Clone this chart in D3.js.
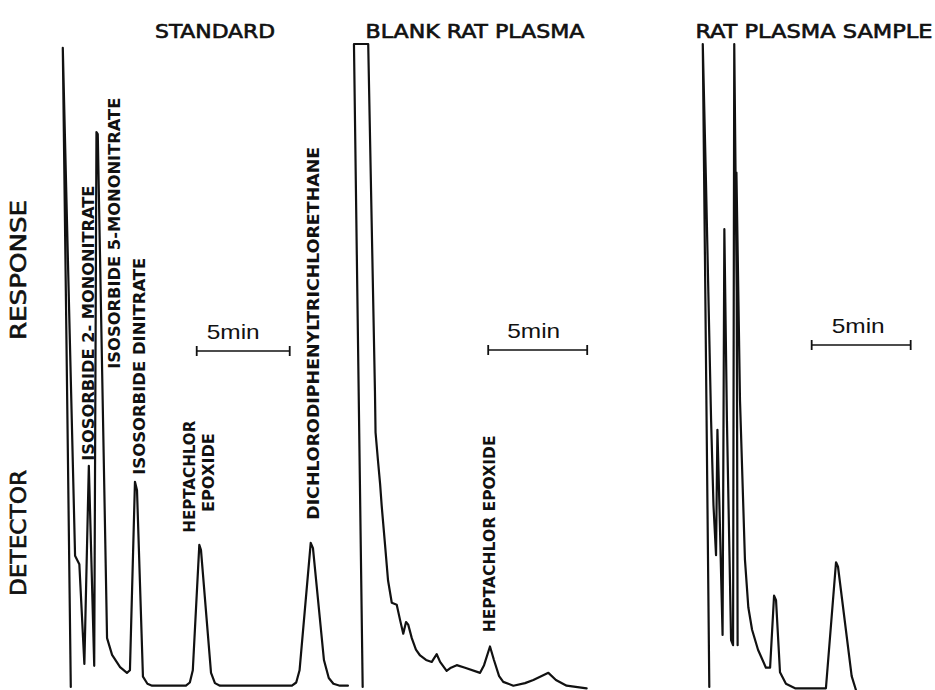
<!DOCTYPE html>
<html>
<head>
<meta charset="utf-8">
<script src="https://cdn.jsdelivr.net/npm/d3@7/dist/d3.min.js"></script>
<style>
  html, body { margin: 0; padding: 0; background: #fff; }
  svg { display: block; }
  text { fill: #111; }
</style>
</head>
<body>
<svg id="chart" width="935" height="690"></svg>
<script>
// ---------------- DATA ----------------
const panelTitles = ["STANDARD", "BLANK RAT PLASMA", "RAT PLASMA SAMPLE"];
const yAxisLabel = ["DETECTOR", "RESPONSE"];
const scaleBarLabel = "5min";
const scaleBarMinutes = 5;
const scaleBarStart = [7.35, 6.98, 5.64];   // minutes, per panel

// Standard chromatogram (time in min, response in % of full scale)
const standardTime = [0.58, 0.15, 0.81, 1.04, 1.31, 1.55, 1.84, 1.96, 2.03, 2.53, 2.80, 3.23, 3.60, 3.76,
  4.03, 4.14, 4.46, 4.70, 4.95, 6.77, 6.98, 7.14, 7.49, 7.58, 8.12, 8.33, 8.60, 12.47, 12.70, 12.88, 13.48, 13.60,
  14.19, 14.45, 14.70, 15.05, 15.48];
const standardResp = [0, 99.4, 20.4, 19.1, 3.6, 34.4, 3.3, 86.3, 86.0, 7.6, 5.0, 3.1, 2.2, 2.6,
  31.9, 30.6, 1.6, 0.5, 0.2, 0.2, 0.7, 2.6, 22.1, 21.3, 2.2, 0.6, 0.2, 0.2, 0.7, 2.6, 22.4, 21.6,
  4.2, 1.4, 0.5, 0.2, 0.2];

// Blank rat plasma
const blankTime = [0.64, 0.20, 0.92, 1.26, 1.29, 1.41, 1.52, 1.60, 1.77, 1.92, 2.11, 2.36, 2.53, 2.69, 2.83, 2.94,
  3.12, 3.33, 3.54, 3.84, 4.13, 4.38, 4.55, 4.88, 5.10, 5.39, 5.81, 6.57, 6.77, 7.07, 7.27, 7.53, 7.74, 8.25,
  8.84, 9.26, 10.02, 10.40, 10.94, 11.95];
const blankResp = [0, 100, 100, 46.0, 39.6, 35.3, 31.6, 28.2, 22.1, 16.6, 13.1, 12.8, 10.4, 8.3, 10.1, 9.7,
  7.6, 5.8, 4.9, 4.2, 3.9, 5.1, 3.9, 2.5, 3.0, 3.4, 3.0, 2.2, 3.4, 6.3, 4.2, 1.7, 0.8, 0.2,
  0.6, 1.1, 2.2, 1.1, 0.2, -0.2];

// Rat plasma sample
const sampleTime = [0.47, 0.14, 0.30, 0.56, 0.68, 0.81, 0.88, 0.98, 1.14, 1.23, 1.36, 1.57, 1.67, 1.73, 1.86, 1.90,
  1.84, 2.02, 2.27, 2.44, 2.63, 2.93, 3.33, 3.54, 3.74, 3.84, 4.04, 4.34, 4.80, 6.36, 6.87, 6.97, 7.66, 7.88];
const sampleResp = [0, 100, 78.8, 41.5, 28.3, 20.5, 40.0, 28.3, 8.1, 71.2, 41.5, 7.3, 6.5, 100, 60.0, 6.5,
  80.0, 44.6, 19.8, 12.4, 8.9, 5.8, 3.0, 3.0, 14.2, 13.5, 2.3, 0.5, -0.2, -0.2, 19.4, 18.7, 1.7, -0.5];

// Peak labels
const peakLabelText = ["ISOSORBIDE 2- MONONITRATE", "ISOSORBIDE 5-MONONITRATE", "ISOSORBIDE DINITRATE",
  "HEPTACHLOR", "EPOXIDE", "DICHLORODIPHENYLTRICHLORETHANE", "HEPTACHLOR EPOXIDE"];
const peakLabelPanel = [0, 0, 0, 0, 0, 0, 1];
const peakLabelTime = [1.51, 2.90, 4.25, 6.94, 7.96, 13.61, 7.0];
const peakLabelResp = [35.2, 49.5, 33.0, 24.0, 27.2, 26.0, 8.5];

// ---------------- LAYOUT ----------------
const svg = d3.select("#chart");
const y = d3.scaleLinear().domain([0, 100]).range([687, 44]);
const xScales = [
  d3.scaleLinear().domain([0, 16]).range([60, 60 + 16 * 18.6]),
  d3.scaleLinear().domain([0, 12]).range([350, 350 + 12 * 19.8]),
  d3.scaleLinear().domain([0, 8]).range([700, 700 + 8 * 19.8])
];
const series = [
  { t: standardTime, r: standardResp },
  { t: blankTime, r: blankResp },
  { t: sampleTime, r: sampleResp }
];

const FONT = "'DejaVu Sans Condensed', 'DejaVu Sans', 'Liberation Sans Narrow', sans-serif";

// traces
const line = d3.line().x(d => d[0]).y(d => d[1]).curve(d3.curveLinear);
series.forEach((s, i) => {
  const pts = s.t.map((t, k) => [xScales[i](t), y(s.r[k])]);
  svg.append("path")
    .attr("d", line(pts))
    .attr("fill", "none")
    .attr("stroke", "#111")
    .attr("stroke-width", 2.2)
    .attr("stroke-linejoin", "round")
    .attr("stroke-linecap", "round");
});

// titles
const titleLayout = [
  { cx: 215, len: 120 }, { cx: 475, len: 219 }, { cx: 814, len: 237 }
];
panelTitles.forEach((t, i) => {
  svg.append("text")
    .attr("x", titleLayout[i].cx - titleLayout[i].len / 2)
    .attr("y", 38)
    .attr("textLength", titleLayout[i].len)
    .attr("lengthAdjust", "spacingAndGlyphs")
    .style("font-family", FONT)
    .style("font-size", "20px")
    .style("stroke", "#111")
    .style("stroke-width", "0.6px")
    .text(t);
});

// y axis label (rotated)
const yLabelLayout = [{ bottom: 596, len: 126 }, { bottom: 340, len: 140 }];
yAxisLabel.forEach((t, i) => {
  svg.append("text")
    .attr("transform", `translate(26,${yLabelLayout[i].bottom}) rotate(-90)`)
    .attr("textLength", yLabelLayout[i].len)
    .attr("lengthAdjust", "spacingAndGlyphs")
    .style("font-family", FONT)
    .style("font-size", "21px")
    .style("stroke", "#111")
    .style("stroke-width", "0.6px")
    .text(t);
});

// scale bars
const barY = [351, 350, 345];
const barTextOffset = [10, 19, 20];
xScales.forEach((xs, i) => {
  const x0 = xs(scaleBarStart[i]);
  const x1 = xs(scaleBarStart[i] + scaleBarMinutes);
  const g = svg.append("g");
  g.append("line").attr("x1", x0).attr("x2", x1).attr("y1", barY[i]).attr("y2", barY[i])
    .attr("stroke", "#111").attr("stroke-width", 1.6);
  [x0, x1].forEach(xx => g.append("line").attr("x1", xx).attr("x2", xx)
    .attr("y1", barY[i] - 5).attr("y2", barY[i] + 5).attr("stroke", "#111").attr("stroke-width", 1.8));
  g.append("text")
    .attr("x", x0 + barTextOffset[i])
    .attr("y", barY[i] - 12)
    .attr("textLength", 53)
    .attr("lengthAdjust", "spacingAndGlyphs")
    .style("font-family", "'Liberation Sans', Arial, sans-serif")
    .style("font-size", "21px")
    .text(scaleBarLabel);
});

// peak labels (rotated, reading bottom-to-top)
const peakLabelLen = [275, 271, 217, 112, 79, 373, 197];
peakLabelText.forEach((t, i) => {
  const xs = xScales[peakLabelPanel[i]];
  const px = xs(peakLabelTime[i]);
  const py = y(peakLabelResp[i]);
  svg.append("text")
    .attr("transform", `translate(${px + 6},${py}) rotate(-90)`)
    .attr("textLength", peakLabelLen[i])
    .attr("lengthAdjust", "spacingAndGlyphs")
    .style("font-family", FONT)
    .style("font-weight", "bold")
    .style("font-size", "15px")
    .text(t);
});
</script>
</body>
</html>
